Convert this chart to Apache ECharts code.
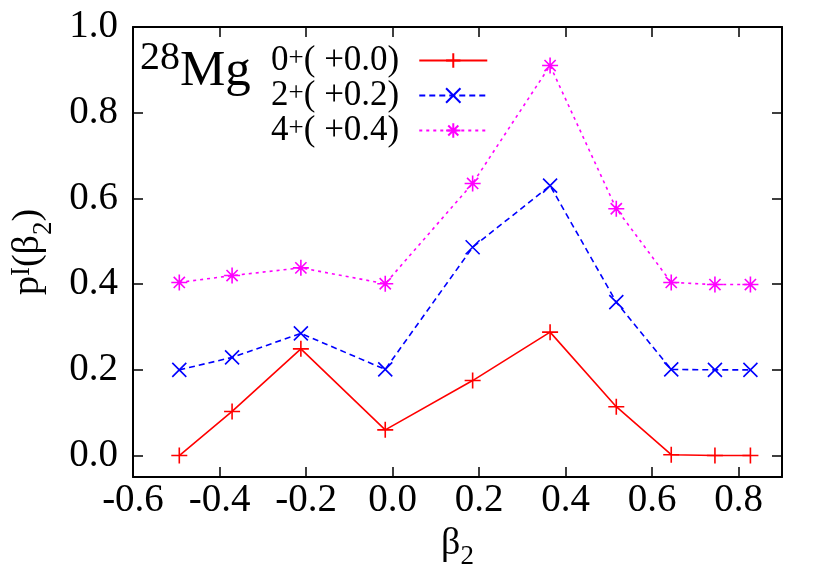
<!DOCTYPE html>
<html>
<head>
<meta charset="utf-8">
<script src="https://cdn.jsdelivr.net/npm/echarts@6/dist/echarts.min.js"></script>
<style>
  html, body { margin: 0; padding: 0; background: #fff; }
  #chart { width: 822px; height: 576px; }
</style>
</head>
<body>
<div id="chart"></div>
<script>
// beta_2 deformation points
var beta2 = [-0.493, -0.371, -0.212, -0.017, 0.185, 0.364, 0.517, 0.644, 0.745, 0.827];
// plotted values (already shifted by the offsets shown in the legend)
var p0 = [0.0, 0.103, 0.249, 0.060, 0.175, 0.288, 0.114, 0.002, 0.0, 0.0];
var p2 = [0.200, 0.229, 0.285, 0.201, 0.486, 0.630, 0.358, 0.201, 0.200, 0.200];
var p4 = [0.404, 0.420, 0.438, 0.401, 0.635, 0.910, 0.576, 0.404, 0.399, 0.399];

var seriesNames = ['0+( +0.0)', '2+( +0.2)', '4+( +0.4)'];
var xTicks = [-0.6, -0.4, -0.2, 0.0, 0.2, 0.4, 0.6, 0.8];
var yTicks = [0.0, 0.2, 0.4, 0.6, 0.8, 1.0];

var FONT = 'Liberation Serif';

function pairs(ys) {
  return beta2.map(function (x, i) { return [x, ys[i]]; });
}

var plusPath = 'path://M0,-10L0,10M-10,0L10,0';
var crossPath = 'path://M-10,-10L10,10M-10,10L10,-10';
var starPath = 'path://M0,-10L0,10M-10,0L10,0M-7,-7L7,7M-7,7L7,-7';

var chart = echarts.init(document.getElementById('chart'));

var tickStyle = { show: true, inside: true, length: 10, lineStyle: { color: '#000', width: 1.5 } };
var lineAxis = { show: true, onZero: false, lineStyle: { color: '#000', width: 2 } };

var option = {
  backgroundColor: '#fff',
  animation: false,
  textStyle: { fontFamily: FONT },
  grid: { left: 127, top: 27, right: 40, bottom: 99, containLabel: false },
  legend: {
    orient: 'vertical',
    left: 266,
    top: 38,
    align: 'right',
    itemWidth: 68,
    itemHeight: 18,
    itemGap: 0,
    selectedMode: false,
    data: seriesNames,
    formatter: function (name) {
      return '{n|' + name.charAt(0) + '}{s|+}{n|' + name.slice(2) + '}';
    },
    textStyle: {
      width: 132,
      align: 'right',
      padding: [0, 15, 0, 0],
      rich: {
        n: { fontFamily: FONT, fontSize: 35, color: '#000', lineHeight: 30 },
        s: { fontFamily: FONT, fontSize: 27, color: '#000', lineHeight: 4, verticalAlign: 'top' }
      }
    }
  },
  xAxis: [{
    type: 'value',
    min: -0.6,
    max: 0.9,
    position: 'bottom',
    axisLine: lineAxis,
    axisTick: Object.assign({ customValues: xTicks }, tickStyle),
    splitLine: { show: false },
    axisLabel: {
      customValues: xTicks,
      margin: 4,
      fontFamily: FONT,
      fontSize: 39,
      color: '#000',
      formatter: function (v) { return v.toFixed(1); }
    },
    name: '{b|β}{s|2}',
    nameLocation: 'middle',
    nameGap: 42,
    nameTextStyle: {
      rich: {
        b: { fontFamily: FONT, fontSize: 38, color: '#000' },
        s: { fontFamily: FONT, fontSize: 27, color: '#000', verticalAlign: 'bottom', padding: [0, 0, -8, 0] }
      }
    }
  }, {
    type: 'value',
    min: -0.6,
    max: 0.9,
    position: 'top',
    axisLine: lineAxis,
    axisTick: Object.assign({ customValues: xTicks }, tickStyle),
    splitLine: { show: false },
    axisLabel: { show: false }
  }],
  yAxis: [{
    type: 'value',
    min: -0.05,
    max: 1.0,
    position: 'left',
    axisLine: lineAxis,
    axisTick: Object.assign({ customValues: yTicks }, tickStyle),
    splitLine: { show: false },
    axisLabel: {
      customValues: yTicks,
      margin: 15,
      fontFamily: FONT,
      fontSize: 39,
      color: '#000',
      formatter: function (v) { return v.toFixed(1); }
    },
    name: '{n|p}{s|I}{n|(β}{b|2}{n|)}',
    nameLocation: 'middle',
    nameRotate: 90,
    nameGap: 84,
    nameTextStyle: {
      rich: {
        n: { fontFamily: FONT, fontSize: 38, color: '#000' },
        s: { fontFamily: FONT, fontSize: 27, color: '#000', verticalAlign: 'top', padding: [0, 0, 14, 0] },
        b: { fontFamily: FONT, fontSize: 27, color: '#000', verticalAlign: 'bottom', padding: [0, 0, -8, 0] }
      }
    }
  }, {
    type: 'value',
    min: -0.05,
    max: 1.0,
    position: 'right',
    axisLine: lineAxis,
    axisTick: Object.assign({ customValues: yTicks }, tickStyle),
    splitLine: { show: false },
    axisLabel: { show: false }
  }],
  graphic: [{
    type: 'text',
    left: 140,
    top: 38,
    style: { text: '28', fontFamily: FONT, fontSize: 40, fill: '#000' }
  }, {
    type: 'text',
    left: 180,
    top: 46,
    style: { text: 'Mg', fontFamily: FONT, fontSize: 51, fill: '#000' }
  }],
  series: [{
    name: seriesNames[0],
    type: 'line',
    data: pairs(p0),
    symbol: plusPath,
    symbolSize: 16,
    symbolKeepAspect: true,
    itemStyle: { color: '#ff0000', borderColor: '#ff0000', borderWidth: 1.6 },
    lineStyle: { color: '#ff0000', width: 1.6, type: 'solid' }
  }, {
    name: seriesNames[1],
    type: 'line',
    data: pairs(p2),
    symbol: crossPath,
    symbolSize: 14,
    symbolKeepAspect: true,
    itemStyle: { color: '#0000ff', borderColor: '#0000ff', borderWidth: 1.6 },
    lineStyle: { color: '#0000ff', width: 1.6, type: [6, 4] }
  }, {
    name: seriesNames[2],
    type: 'line',
    data: pairs(p4),
    symbol: starPath,
    symbolSize: 16,
    symbolKeepAspect: true,
    itemStyle: { color: '#ff00ff', borderColor: '#ff00ff', borderWidth: 1.6 },
    lineStyle: { color: '#ff00ff', width: 1.6, type: [3, 4] }
  }]
};

chart.setOption(option);
</script>
</body>
</html>
